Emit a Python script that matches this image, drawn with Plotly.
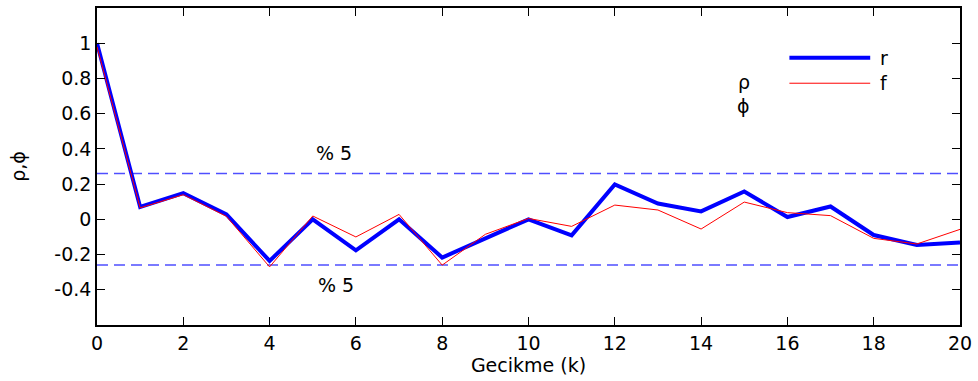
import plotly.graph_objects as go

lags = list(range(0, 21))
r_vals = [1.0, 0.07, 0.149, 0.028, -0.236, 0.0, -0.176, 0.0, -0.217, -0.108, 0.0,
          -0.091, 0.198, 0.09, 0.045, 0.158, 0.013, 0.073, -0.089, -0.146, -0.132]
f_vals = [0.98, 0.065, 0.14, 0.017, -0.27, 0.019, -0.1, 0.028, -0.26, -0.085, 0.005,
          -0.04, 0.081, 0.053, -0.055, 0.098, 0.038, 0.021, -0.108, -0.14, -0.057]
conf_level = 0.26
x_ticks = [0, 2, 4, 6, 8, 10, 12, 14, 16, 18, 20]
y_ticks = [-0.4, -0.2, 0, 0.2, 0.4, 0.6, 0.8, 1]
y_tick_text = ["-0.4", "-0.2", "0", "0.2", "0.4", "0.6", "0.8", "1"]

FONT = "DejaVu Sans, Liberation Sans, Arial, sans-serif"
FS = 19
fig = go.Figure()

for lvl in (conf_level, -conf_level):
    fig.add_trace(go.Scatter(x=[lags[0], lags[-1]], y=[lvl, lvl], mode="lines",
                             line=dict(color="#4f4fff", width=1.5, dash="11px,6px"),
                             showlegend=False, hoverinfo="skip"))

fig.add_trace(go.Scatter(x=lags, y=r_vals, mode="lines", name="r",
                         line=dict(color="#0000ff", width=4)))
fig.add_trace(go.Scatter(x=lags, y=f_vals, mode="lines", name="f",
                         line=dict(color="#ff0000", width=1)))

axis_common = dict(showline=True, linecolor="black", linewidth=1.5, mirror="allticks",
                   ticks="inside", ticklen=8, tickcolor="black", tickwidth=1,
                   showgrid=False, zeroline=False,
                   tickfont=dict(family=FONT, size=FS, color="black"))

fig.update_layout(
    width=978, height=381,
    margin=dict(l=97, r=16, t=6, b=56),
    paper_bgcolor="white", plot_bgcolor="white",
    showlegend=False,
    xaxis=dict(range=[0, 20], tickvals=x_ticks,
               title=dict(text="Gecikme (k)", font=dict(family=FONT, size=FS, color="black"), standoff=0),
               **axis_common),
    yaxis=dict(range=[-0.6, 1.2], tickvals=y_ticks, ticktext=y_tick_text,
               title=dict(text="ρ,ϕ", font=dict(family=FONT, size=FS, color="black"), standoff=24),
               **axis_common),
)

# legend drawn manually
def px2paper(px, py):
    return (px - 97) / 865, (325 - py) / 319

for (py, col, w, lab) in [(56, "#0000ff", 4, "r"), (81.7, "#ff0000", 1, "f")]:
    x0, y0 = px2paper(791, py)
    x1, _ = px2paper(872, py)
    fig.add_shape(type="line", xref="paper", yref="paper", x0=x0, x1=x1, y0=y0, y1=y0,
                  line=dict(color=col, width=w))
    tx, _ = px2paper(880, py)
    fig.add_annotation(xref="paper", yref="paper", x=tx, y=y0, text=lab, showarrow=False,
                       xanchor="left", yanchor="middle",
                       font=dict(family=FONT, size=FS, color="black"))

for (py, lab) in [(80, "ρ"), (105, "ϕ")]:
    tx, ty = px2paper(745, py)
    fig.add_annotation(xref="paper", yref="paper", x=tx, y=ty, text=lab, showarrow=False,
                       xanchor="center", yanchor="middle",
                       font=dict(family=FONT, size=FS, color="black"))

fig.add_annotation(x=5.5, y=0.377, text="% 5", showarrow=False,
                   font=dict(family=FONT, size=FS, color="black"))
fig.add_annotation(x=5.55, y=-0.372, text="% 5", showarrow=False,
                   font=dict(family=FONT, size=FS, color="black"))

fig.write_html("out.html")
